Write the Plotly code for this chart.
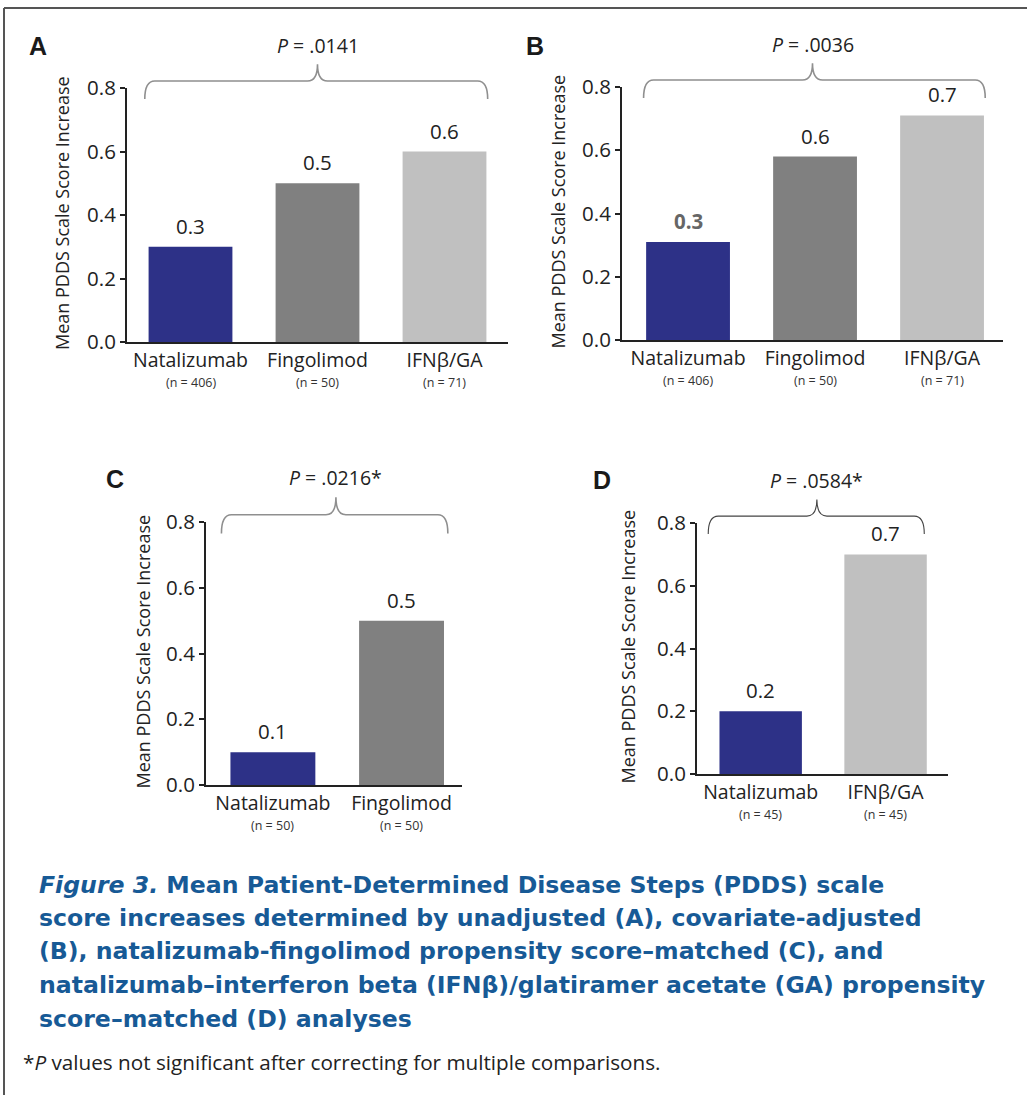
import plotly.graph_objects as go

W, H = 1027, 1095

# ---------------- data ----------------
cats_A = ["Natalizumab", "Fingolimod", "IFNβ/GA"]
n_A = ["(n = 406)", "(n = 50)", "(n = 71)"]
vals_A = [0.30, 0.50, 0.60]
lbl_A = ["0.3", "0.5", "0.6"]
p_A = "<i>P</i> = .0141"

cats_B = ["Natalizumab", "Fingolimod", "IFNβ/GA"]
n_B = ["(n = 406)", "(n = 50)", "(n = 71)"]
vals_B = [0.31, 0.58, 0.71]
lbl_B = ["0.3", "0.6", "0.7"]
p_B = "<i>P</i> = .0036"

cats_C = ["Natalizumab", "Fingolimod"]
n_C = ["(n = 50)", "(n = 50)"]
vals_C = [0.10, 0.50]
lbl_C = ["0.1", "0.5"]
p_C = "<i>P</i> = .0216*"

cats_D = ["Natalizumab", "IFNβ/GA"]
n_D = ["(n = 45)", "(n = 45)"]
vals_D = [0.20, 0.70]
lbl_D = ["0.2", "0.7"]
p_D = "<i>P</i> = .0584*"

y_ticks = [0.0, 0.2, 0.4, 0.6, 0.8]
y_title = "Mean PDDS Scale Score Increase"
color_map = {"Natalizumab": "#2d3187", "Fingolimod": "#808080", "IFNβ/GA": "#c0c0c0"}

caption_lines = [
    "<i>Figure 3.</i> Mean Patient-Determined Disease Steps (PDDS) scale",
    "score increases determined by unadjusted (A), covariate-adjusted",
    "(B), natalizumab-fingolimod propensity score–matched (C), and",
    "natalizumab–interferon beta (IFNβ)/glatiramer acetate (GA) propensity",
    "score–matched (D) analyses",
]
footnote = "*<i>P</i> values not significant after correcting for multiple comparisons."

# ---------------- layout geometry (pixels) ----------------
panels = [
    dict(key="A", cats=cats_A, n=n_A, vals=vals_A, lbl=lbl_A, p=p_A,
         xpx=(127, 508), ypx=(88, 342), xr=(-0.5, 2.5),
         brace=(-0.36, 2.34, 1.0), letter=(38, 46), ytx=62,
         bcol="#8f8f8f", bw=1.6, lblcol=["#222"] * 3),
    dict(key="B", cats=cats_B, n=n_B, vals=vals_B, lbl=lbl_B, p=p_B,
         xpx=(622, 1003), ypx=(87, 340), xr=(-0.52, 2.48),
         brace=(-0.35, 2.34, 0.98), letter=(535, 46), ytx=557,
         bcol="#8f8f8f", bw=1.6, lblcol=["#666", "#222", "#222"]),
    dict(key="C", cats=cats_C, n=n_C, vals=vals_C, lbl=lbl_C, p=p_C,
         xpx=(206, 462), ypx=(522, 785), xr=(-0.52, 1.47),
         brace=(-0.40, 1.36, 0.49), letter=(115, 479), ytx=142,
         bcol="#8f8f8f", bw=1.6, lblcol=["#222"] * 2),
    dict(key="D", cats=cats_D, n=n_D, vals=vals_D, lbl=lbl_D, p=p_D,
         xpx=(697, 948), ypx=(523, 774), xr=(-0.51, 1.5),
         brace=(-0.42, 1.31, 0.45), letter=(602, 480), ytx=627,
         bcol="#444444", bw=1.1, lblcol=["#222"] * 2),
]

FONT = "Open Sans"
fig = go.Figure()
shapes, annos = [], []


def px2x(p):
    return p / W


def px2y(p):
    return 1 - p / H


for i, pn in enumerate(panels):
    sfx = "" if i == 0 else str(i + 1)
    xa, ya = "x" + sfx, "y" + sfx
    x0p, x1p = pn["xpx"]
    ytp, ybp = pn["ypx"]
    xr = pn["xr"]

    fig.add_trace(go.Bar(
        x=list(range(len(pn["cats"]))), y=pn["vals"],
        marker=dict(color=[color_map[c] for c in pn["cats"]], line=dict(width=0)),
        width=0.66, xaxis=xa, yaxis=ya, showlegend=False, hoverinfo="skip",
    ))
    fig.layout["xaxis" + sfx] = dict(
        domain=[px2x(x0p), px2x(x1p)], anchor=ya, range=list(xr),
        tickmode="array", tickvals=list(range(len(pn["cats"]))), ticktext=pn["cats"],
        tickfont=dict(family=FONT, size=19.5, color="#222"),
        showline=True, linecolor="#222", linewidth=2, ticks="",
        showgrid=False, zeroline=False, fixedrange=True, automargin=False,
    )
    fig.layout["yaxis" + sfx] = dict(
        domain=[px2y(ybp), px2y(ytp)], anchor=xa, range=[0, 0.8],
        tickmode="array", tickvals=y_ticks, ticktext=[f"{v:.1f}" for v in y_ticks],
        tickfont=dict(family=FONT, size=20.5, color="#222"),
        showline=True, linecolor="#222", linewidth=2, ticks="outside",
        ticklen=5, tickwidth=2, tickcolor="#222",
        showgrid=False, zeroline=False, fixedrange=True, automargin=False,
    )

    # n labels under the category names
    for j, n in enumerate(pn["n"]):
        annos.append(dict(x=j, y=0, xref=xa, yref=ya, text=n, showarrow=False,
                          yanchor="middle", yshift=-40,
                          font=dict(family=FONT, size=12.5, color="#333")))

    # value labels above the bars
    for j, (v, t) in enumerate(zip(pn["vals"], pn["lbl"])):
        txt = f"<b>{t}</b>" if pn["lblcol"][j] == "#666" else t
        annos.append(dict(x=j, y=v, xref=xa, yref=ya, text=txt, showarrow=False,
                          yanchor="bottom", yshift=5,
                          font=dict(family=FONT, size=20.5, color=pn["lblcol"][j])))

    def dx(x, x0p=x0p, x1p=x1p, xr=xr):
        return px2x(x0p + (x - xr[0]) / (xr[1] - xr[0]) * (x1p - x0p))

    def dy(y, ytp=ytp, ybp=ybp):
        return px2y(ybp - y / 0.8 * (ybp - ytp))

    # comparison brace
    xl, xrr, xm = pn["brace"]
    y_end, y_bar, y_tip = 0.765, 0.822, 0.875
    rx = 10 / W
    XL, XR, XM = dx(xl), dx(xrr), dx(xm)
    YE, YB, YT = dy(y_end), dy(y_bar), dy(y_tip)
    path = (f"M {XL},{YE} Q {XL},{YB} {XL + rx},{YB} L {XM - rx},{YB} "
            f"Q {XM},{YB} {XM},{YT} Q {XM},{YB} {XM + rx},{YB} "
            f"L {XR - rx},{YB} Q {XR},{YB} {XR},{YE}")
    shapes.append(dict(type="path", xref="paper", yref="paper", path=path,
                       line=dict(color=pn["bcol"], width=pn["bw"])))
    annos.append(dict(x=XM, y=dy(0.935), xref="paper", yref="paper", text=pn["p"],
                      showarrow=False, xanchor="center", yanchor="middle",
                      font=dict(family=FONT, size=19.5, color="#222")))

    # panel letter
    lx, ly = pn["letter"]
    annos.append(dict(x=px2x(lx), y=px2y(ly), xref="paper", yref="paper",
                      text=f"<b>{pn['key']}</b>", showarrow=False,
                      xanchor="center", yanchor="middle",
                      font=dict(family="Liberation Sans", size=25, color="#1a1a1a")))

    # y-axis title
    annos.append(dict(x=px2x(pn["ytx"]), y=px2y((ytp + ybp) / 2 - 2), xref="paper", yref="paper",
                      text=y_title, textangle=-90, showarrow=False,
                      xanchor="center", yanchor="middle",
                      font=dict(family=FONT, size=18, color="#222")))

# caption
cap_y = [885, 918, 951, 985, 1019]
for t, yy in zip(caption_lines, cap_y):
    annos.append(dict(x=px2x(37), y=px2y(yy), xref="paper", yref="paper",
                      text=f"<b>{t}</b>", showarrow=False, xanchor="left", yanchor="middle",
                      font=dict(family="DejaVu Sans", size=23.6, color="#175a96")))
annos.append(dict(x=px2x(21), y=px2y(1062), xref="paper", yref="paper",
                  text=footnote, showarrow=False, xanchor="left", yanchor="middle",
                  font=dict(family="Open Sans", size=20.7, color="#222")))

# border (top and left)
shapes.append(dict(type="line", xref="paper", yref="paper",
                   x0=px2x(4), x1=1.0, y0=px2y(8), y1=px2y(8), line=dict(color="#555", width=2)))
shapes.append(dict(type="line", xref="paper", yref="paper",
                   x0=px2x(4), x1=px2x(4), y0=px2y(8), y1=0, line=dict(color="#555", width=2)))

fig.update_layout(
    width=W, height=H, margin=dict(l=0, r=0, t=0, b=0, autoexpand=False),
    paper_bgcolor="white", plot_bgcolor="white",
    shapes=shapes, annotations=annos, showlegend=False,
    font=dict(family=FONT, color="#222"),
)

fig.write_html("out.html", config={"displayModeBar": False, "responsive": False},
               post_script="document.body.style.margin='0px';")
